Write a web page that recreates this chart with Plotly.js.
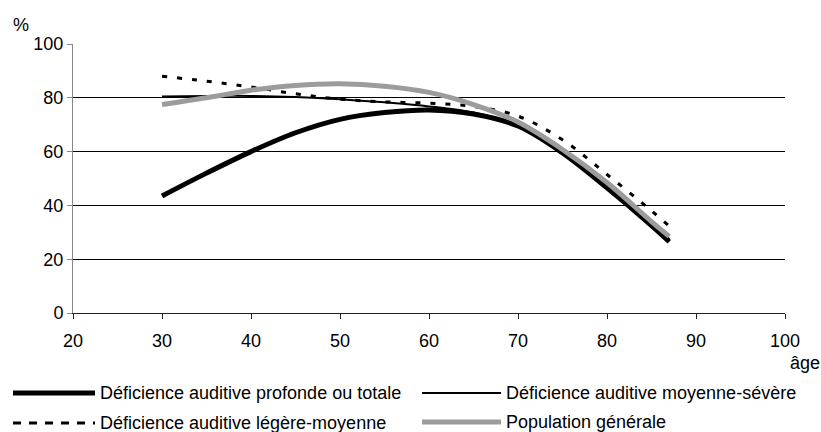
<!DOCTYPE html>
<html>
<head>
<meta charset="utf-8">
<script src="https://cdn.plot.ly/plotly-3.0.1.min.js"></script>
<style>html,body{margin:0;padding:0;background:#fff;}#chart{width:821px;height:432px;}</style>
</head>
<body>
<div id="chart"></div>
<script>
// Data
const ages = [30, 35, 40, 45, 50, 55, 60, 65, 70, 75, 80, 85, 87];
const profonde = [43.5, 52, 60, 67, 72, 74.5, 75.5, 74, 69.5, 59.5, 46.5, 32.5, 26.5];
const moyenneSevere = [80.5, 80.7, 80.7, 80.3, 79.5, 78.3, 76.8, 74.5, 70, 60, 47, 33.5, 27.5];
const legereMoyenne = [88, 86.2, 84, 81.5, 79.5, 78.5, 78, 76.8, 73.2, 64.4, 51.5, 38, 32.3];
const population = [77.5, 80, 82.8, 84.6, 85.2, 84.3, 82, 77.5, 71, 60.8, 48.5, 34, 28.5];
const seriesNames = [
  "Déficience auditive profonde ou totale",
  "Déficience auditive moyenne-sévère",
  "Déficience auditive légère-moyenne",
  "Population générale"
];
const xTicks = [20, 30, 40, 50, 60, 70, 80, 90, 100];
const yTicks = [0, 20, 40, 60, 80, 100];

const FONT = "Liberation Sans, Arial, sans-serif";
const styles = [
  {color: "#000000", width: 5, dash: "solid"},
  {color: "#000000", width: 2, dash: "solid"},
  {color: "#000000", width: 3, dash: "5px,10px"},
  {color: "#9c9c9c", width: 5, dash: "solid"}
];
const seriesVals = [profonde, moyenneSevere, legereMoyenne, population];

const traces = seriesVals.map((v, i) => ({
  type: "scatter", mode: "lines", x: ages, y: v, name: seriesNames[i],
  line: {color: styles[i].color, width: styles[i].width, dash: styles[i].dash, shape: "spline", smoothing: 1},
  showlegend: false, hoverinfo: "skip"
}));

// plot area in pixels
const L = 73, R = 785, T = 44, B = 313;
const px = x => (x - L) / (R - L);
const py = y => (B - y) / (B - T);

// custom legend (two columns)
const legendPos = [
  {x0: 13, x1: 95, tx: 98, y: 393},
  {x0: 422, x1: 501, tx: 504, y: 393},
  {x0: 13, x1: 95, tx: 98, y: 423},
  {x0: 422, x1: 501, tx: 504, y: 422}
];
const legendDash = ["solid", "solid", "8px,8px", "solid"];
const shapes = legendPos.map((p, i) => ({
  type: "line", xref: "paper", yref: "paper",
  x0: px(p.x0), x1: px(p.x1), y0: py(p.y), y1: py(p.y),
  line: {color: styles[i].color, width: styles[i].width, dash: legendDash[i]}
}));
const annotations = legendPos.map((p, i) => ({
  xref: "paper", yref: "paper", x: px(p.tx), y: py(p.y - 0.5),
  xanchor: "left", yanchor: "middle", showarrow: false,
  text: seriesNames[i], font: {family: FONT, size: 18, color: "#000"}
}));
annotations.push({xref: "paper", yref: "paper", x: px(21), y: py(25), xanchor: "center", yanchor: "middle",
  showarrow: false, text: "%", font: {family: FONT, size: 18, color: "#000"}});
annotations.push({xref: "paper", yref: "paper", x: px(805), y: py(363), xanchor: "center", yanchor: "middle",
  showarrow: false, text: "âge", font: {family: FONT, size: 18, color: "#000"}});

const layout = {
  width: 821, height: 432,
  margin: {l: L, r: 821 - R, t: T, b: 432 - B, pad: 0},
  paper_bgcolor: "#fff", plot_bgcolor: "#fff",
  font: {family: FONT, size: 18, color: "#000"},
  showlegend: false,
  xaxis: {
    range: [20, 100], tickvals: xTicks, ticktext: xTicks.map(String),
    showgrid: false, zeroline: false, showline: true, linecolor: "#222", linewidth: 1,
    ticks: "outside", ticklen: 5, tickcolor: "#222", ticklabelstandoff: 6,
    tickfont: {family: FONT, size: 18, color: "#000"},
    fixedrange: true
  },
  yaxis: {
    range: [0, 100], tickvals: yTicks, ticktext: yTicks.map(String),
    showgrid: true, gridcolor: "#000", gridwidth: 1, zeroline: false,
    showline: true, linecolor: "#888", linewidth: 1,
    ticks: "outside", ticklen: 5, tickcolor: "#888", tickfont: {family: FONT, size: 18, color: "#000"},
    fixedrange: true
  },
  shapes: shapes,
  annotations: annotations
};

Plotly.newPlot("chart", traces, layout, {displayModeBar: false, staticPlot: true});
</script>
</body>
</html>
